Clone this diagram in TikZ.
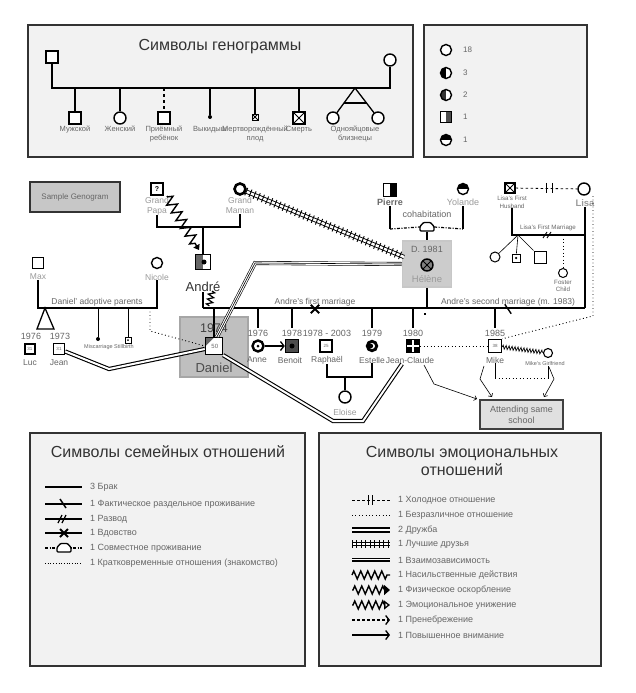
\documentclass[tikz,border=0pt]{standalone}
\usepackage{fontspec}
\setmainfont{Liberation Sans}
\usetikzlibrary{arrows.meta,decorations.pathmorphing,decorations.pathreplacing,calc}
\newcommand\fsz[2]{\fontsize{#1}{#2}\selectfont}
\definecolor{lgray}{HTML}{F2F2F2}
\definecolor{txtg}{HTML}{666666}
\definecolor{txtl}{HTML}{9A9A9A}
\tikzset{
  legbox/.style={draw=black!80, fill=lgray, line width=1.2pt, inner sep=0pt},
  ttl/.style={font=\fsz{16}{18}, text=black!80, align=center, inner sep=0pt},
  male/.style={draw, rectangle, fill=white, line width=1.4pt, minimum size=12pt, inner sep=0pt},
  female/.style={draw, circle, fill=white, line width=1.4pt, minimum size=12pt, inner sep=0pt},
  rel/.style={line width=1.5pt},
  kid/.style={line width=1.3pt},
  thinl/.style={line width=0.6pt},
  lab/.style={font=\fsz{8.5}{10}, text=txtg, inner sep=0pt, align=center},
  yr/.style={font=\fsz{9}{9}, text=txtg, inner sep=1.5pt},
  glab/.style={font=\fsz{7.5}{9}, text=txtg, inner sep=0pt, align=center, anchor=north},
  tinylab/.style={font=\fsz{6.2}{7.5}, text=txtg, inner sep=0pt, align=center},
  leg/.style={font=\fsz{9}{10}, text=txtg, inner sep=0pt, anchor=west},
  crossed/.style={path picture={\draw[line width=0.8pt] (path picture bounding box.south west) -- (path picture bounding box.north east) (path picture bounding box.north west) -- (path picture bounding box.south east);}},
  lefthalf/.style={path picture={\fill[#1] (path picture bounding box.south west) rectangle (path picture bounding box.north);}},
  lefthalf/.default=black,
  righthalf/.style={path picture={\fill[#1] (path picture bounding box.south east) rectangle (path picture bounding box.north);}},
  righthalf/.default=black,
  tophalf/.style={path picture={\fill[#1] (path picture bounding box.north west) rectangle (path picture bounding box.east);}},
  tophalf/.default=black,
  dotrel/.style={line width=0.9pt, dash pattern=on 0.9pt off 2.6pt},
  cohab/.style={line width=1.2pt, dash pattern=on 3pt off 1.5pt on 1pt off 1.5pt},
  zz/.style={decorate, decoration={zigzag, segment length=7pt, amplitude=4pt, pre length=1pt, post length=3pt}, line width=1.4pt},
  dbl/.style={line width=1.1pt, double=white, double distance=2pt},
  tripl/.style={line width=0.6pt, double=white, double distance=2.8pt},
  tickd/.style={line width=0.9pt, decorate, decoration={ticks, segment length=4.5pt, amplitude=4pt}},
  chev/.style={-{Straight Barb[length=3.5pt, width=9pt, line width=1.3pt]}},
  sarr/.style={line width=0.6pt, -{Straight Barb[length=2.5pt, width=5pt]}},
  housepic/.pic={\draw[line width=1.3pt, fill=white, rounded corners=1pt] (-7,4) -- (-7,-0.5) -- (-3.5,-4.5) -- (3.5,-4.5) -- (7,-0.5) -- (7,4) -- cycle;},
  dotn/.style={circle, fill=black, inner sep=0pt, minimum size=#1},
  dotn/.default=4pt
}
\begin{document}
\begin{tikzpicture}[x=1pt,y=-1pt]
\fill[white] (0,0) rectangle (635,693);
\path[use as bounding box] (0,0) rectangle (635,693);

% ================= Genogram symbols legend =================
\node[legbox, minimum width=385pt, minimum height=132pt] (gbox) at (220.5,91) {};
\node[ttl] (gtitle) at (220,47) {Символы генограммы};
\node[male] (gm) at (52,57) {};
\node[female] (gf) at (390,60) {};
\coordinate (gl) at (52,88); \coordinate (gr) at (390,88);
\draw[rel] (gm) -- (gl) -- (gr) -- (gf);
\node[male] (c1) at (75,118) {};
\node[female] (c2) at (120,118) {};
\node[male] (c3) at (164,118) {};
\node[dotn] (c4) at (210,117) {};
\node[male, minimum size=6pt, line width=0.7pt, crossed] (c5) at (255,117) {};
\node[male, crossed] (c6) at (299,118) {};
\coordinate (tw) at (355,88);
\node[female] (c7) at (333,118) {};
\node[female] (c8) at (378,118) {};
\coordinate (d1) at (75,88); \coordinate (d2) at (120,88); \coordinate (d3) at (164,88);
\coordinate (d4) at (210,88); \coordinate (d5) at (255,88); \coordinate (d6) at (299,88);
\draw[kid] (d1) -- (c1);
\draw[kid] (d2) -- (c2);
\draw[kid, dashed] (d3) -- (c3);
\draw[kid] (d4) -- (c4);
\draw[kid] (d5) -- (c5);
\draw[kid] (d6) -- (c6);
\draw[kid] (c7) -- (tw) -- (c8);
\draw[kid] ($(tw)!0.5!(c7)$) -- ($(tw)!0.5!(c8)$);
\node[glab] (l1) at (75,126) {Мужской};
\node[glab] (l2) at (120,126) {Женский};
\node[glab] (l3) at (164,126) {Приёмный\\ребёнок};
\node[glab] (l4) at (210,126) {Выкидыш};
\node[glab] (l5) at (255,126) {Мертворождённый\\плод};
\node[glab] (l6) at (299,126) {Смерть};
\node[glab] (l7) at (355,126) {Однояйцовые\\близнецы};

% ================= statistics legend =================
\node[legbox, minimum width=163pt, minimum height=132pt] (sbox) at (505.5,91) {};
\node[female, minimum size=11pt] (s1) at (446,50) {};
\node[female, minimum size=11pt, lefthalf] (s2) at (446,73) {};
\node[female, minimum size=11pt, lefthalf=black!80] (s3) at (446,95) {};
\node[male, minimum size=11pt, righthalf=black!70] (s4) at (446,117) {};
\node[female, minimum size=11pt, tophalf] (s5) at (446,140) {};
\node[leg, font=\fsz{8}{9}] (s1t) at (463,50) {18};
\node[leg, font=\fsz{8}{9}] (s2t) at (463,73) {3};
\node[leg, font=\fsz{8}{9}] (s3t) at (463,95) {2};
\node[leg, font=\fsz{8}{9}] (s4t) at (463,117) {1};
\node[leg, font=\fsz{8}{9}] (s5t) at (463,140) {1};

% ================= sample genogram =================
\node[draw=black!80, fill=black!22, line width=1.5pt, minimum width=90pt, minimum height=30pt, font=\fsz{8}{9}, text=txtg] (sample) at (75,197) {Sample Genogram};

% grandparents
\node[male, font=\fsz{7}{7}\bfseries] (gpapa) at (157,189) {?};
\node[lab, text=txtl, anchor=north] (gpapaL) at (157,197) {Grand\\Papa};
\node[female, minimum size=11pt, line width=2.6pt, path picture={\fill (path picture bounding box.center) circle (1.5pt);}] (gmaman) at (240,189) {};
\node[lab, text=txtl, anchor=north] (gmamanL) at (240,197) {Grand\\Maman};
\coordinate (gpL) at (157,227); \coordinate (gpR) at (240,227); \coordinate (gpC) at (203,227);
\draw[rel] (gpapaL) -- (gpL) -- (gpR) -- (gmamanL);

% André
\node[male, minimum size=15pt, lefthalf=black!60] (andre) at (203,262) {};
\node[dotn=5pt] (andreDot) at (204,262) {};
\draw[kid] (gpC) -- (andre);
\node[font=\fsz{13}{13}, text=black!80, inner sep=0pt] (andreL) at (203,287) {André};
\coordinate (mL) at (203,308); \coordinate (mR) at (585,308);
\draw[kid] (andreL) -- (mL);
\coordinate (zA1) at (167,196); \coordinate (zA2) at (199,250);
\draw[decorate, decoration={zigzag, segment length=9pt, amplitude=5pt, pre length=1pt, post length=4pt}, line width=1.4pt, -{Triangle[length=5pt,width=7pt]}] (zA1) -- (zA2);
\coordinate (zB1) at (212,291); \coordinate (zB2) at (209,306);
\draw[decorate, decoration={zigzag, segment length=5pt, amplitude=3pt}, line width=1.2pt] (zB1) -- (zB2);

% Pierre, Yolande, Hélène
\node[male, minimum size=13pt, righthalf] (pierre) at (390,190) {};
\node[lab, font=\fsz{9}{10}\bfseries, anchor=north] (pierreL) at (390,199) {Pierre};
\node[female, minimum size=11pt, tophalf] (yolande) at (463,189) {};
\node[lab, font=\fsz{9}{10}, text=txtl, anchor=north] (yolandeL) at (463,199) {Yolande};
\coordinate (cohL) at (390,229); \coordinate (cohR) at (463,229);
\node[minimum width=14pt, minimum height=9pt, inner sep=0pt] (house) at (427,227) {};
\draw[kid] (pierreL) -- (cohL);
\draw[kid] (yolandeL) -- (cohR);
\draw[cohab] (cohL) -- (house.west);
\draw[cohab] (house.east) -- (cohR);
\node[draw=black!22, fill=black!20, line width=1.5pt, minimum width=49pt, minimum height=46pt, inner sep=0pt] (hbox) at (427,264) {};
\draw[rel] (house) -- (hbox);
\pic at (house) {housepic};
\node[lab, font=\fsz{9}{10}] (cohabL) at (427,214) {cohabitation};
\node[font=\fsz{9}{9}, text=txtg, inner sep=0pt] (hD) at (427,249) {D. 1981};
\node[female, minimum size=12pt, fill=black!50, crossed] (helene) at (427,265) {};
\node[font=\fsz{9.5}{9.5}, text=txtl, inner sep=0pt] (heleneL) at (427,279) {Hélène};
\coordinate (mH) at (427,308);
\draw[rel] (hbox) -- (mH);

% best friends Grand Maman -- Hélène
\coordinate (bfEnd) at (404,257);
\draw[line width=0.9pt, double=white, double distance=2.4pt] (gmaman) -- (bfEnd);
\draw[tickd] (gmaman) -- (bfEnd);

% main marriage line
\draw[rel] (mL) -- (mR);
\node[female] (lisa) at (584,189) {};
\node[font=\fsz{9.5}{9.5}\bfseries, text=txtl, inner sep=0pt] (lisaL) at (585,203) {Lisa};
\draw[rel] (lisaL) -- (mR);
\node[inner sep=0pt, minimum size=8pt] (xm) at (315,309) {};
\draw[line width=1.8pt] (xm.north west) -- (xm.south east) (xm.north east) -- (xm.south west);
\node[inner sep=0pt, minimum width=6pt, minimum height=9pt] (sep2) at (508,309) {};
\draw[line width=1.4pt] (sep2.north west) -- (sep2.south east);
\node[fill=black, minimum size=2.5pt, inner sep=0pt] (sq) at (425,314) {};
\node[lab] (fmL) at (315,302) {Andre's first marriage};
\node[lab] (smL) at (508,302) {Andre's second marriage (m. 1983)};

% Lisa's first marriage
\node[male, minimum size=10pt, line width=1.2pt, crossed] (lhus) at (510,188) {};
\node[tinylab, anchor=north] (lhusL) at (512,196) {Lisa's First\\Husband};
\draw[line width=0.8pt, dash pattern=on 2.5pt off 2.5pt] (lhus) -- (lisa);
\node[inner sep=0pt, minimum width=5pt, minimum height=10pt] (cold) at (549.5,188) {};
\draw[line width=1pt] (cold.north west) -- (cold.south west) (cold.north east) -- (cold.south east);
\coordinate (lfL) at (512,235); \coordinate (lfR) at (585,235);
\draw[line width=1.1pt] (lhusL) -- (lfL) -- (lfR);
\node[inner sep=0pt, minimum size=6pt] (div1) at (547,235) {};
\draw[line width=0.9pt] ($(div1)+(-4,3)$) -- ($(div1)+(0,-3)$) ($(div1)+(0,3)$) -- ($(div1)+(4,-3)$);
\node[tinylab] (lfmL) at (548,228) {Lisa's First Marriage};
\coordinate (lfC) at (518,235);
\node[female, minimum size=10pt, line width=1pt] (lk1) at (495,257) {};
\node[male, minimum size=8pt, line width=1pt] (lk2) at (516,258) {};
\node[dotn=2.5pt] (lk2d) at (516,258) {};
\node[male, minimum size=12pt, line width=1pt] (lk3) at (540,257) {};
\draw[thinl] (lfC) -- (lk1);
\draw[thinl] (lfC) -- (lk2);
\draw[thinl] (lfC) -- (lk3);
\coordinate (lfF) at (563,235);
\node[female, minimum size=9pt, line width=1pt] (foster) at (563,273) {};
\draw[dotrel] (lfF) -- (foster);
\node[tinylab, anchor=north] (fosterL) at (563,280) {Foster\\Child};

% adoptive parents
\node[male, minimum size=11pt] (max) at (38,263) {};
\node[female, minimum size=11pt] (nicole) at (157,263) {};
\node[lab, text=txtl] (maxL) at (38,277) {Max};
\node[lab, text=txtl] (nicoleL) at (157,277) {Nicole};
\coordinate (apL) at (38,308); \coordinate (apR) at (157,308);
\draw[rel] (maxL) -- (apL) -- (apR) -- (nicoleL);
\node[lab] (apLab) at (97,302) {Daniel' adoptive parents};
\coordinate (twA) at (45,308); \coordinate (twB1) at (37,329); \coordinate (twB2) at (54,329);
\draw[kid, line join=miter] (twB1) -- (twA) -- (twB2) -- cycle;
\node[yr] (lucY) at (31,336) {1976};
\node[yr] (jeanY) at (60,336) {1973};
\node[male, minimum size=10pt, line width=1.2pt] (luc) at (30,349) {\fsz{4.5}{4.5}\color{txtg}31};
\node[male, minimum size=11pt] (jean) at (59,349) {\fsz{4.5}{4.5}\color{txtg}31};
\node[lab] (lucL) at (30,363) {Luc};
\node[lab] (jeanL) at (59,363) {Jean};
\coordinate (mc) at (98,308); \coordinate (sb) at (128,308);
\node[dotn] (misc) at (98,339) {};
\node[male, minimum size=6pt, line width=1pt] (still) at (128,340) {};
\node[dotn=2pt] (stilld) at (128,340) {};
\draw[line width=1pt] (mc) -- (misc);
\draw[line width=1pt] (sb) -- (still);
\node[font=\fsz{5.5}{6}, text=txtg, inner sep=0pt] (mscL) at (109,347) {Miscarriage Stillbirth};

% Daniel
\node[draw=black!35, fill=black!25, line width=1.5pt, minimum width=68pt, minimum height=60pt] (dbox) at (214,347) {};
\coordinate (mD) at (214,308);
\node[male, minimum size=17pt, path picture={\fill[black!60] (path picture bounding box.north west) -- (path picture bounding box.north) -- (path picture bounding box.west) -- cycle;}] (daniel) at (214,346) {\fsz{6}{6}\color{txtg}\ 50};
\draw[kid] (mD) -- (daniel);
\node[font=\fsz{12.5}{12.5}, text=black!75, inner sep=0pt] (dY) at (214,328) {1974};
\node[font=\fsz{13}{13}, text=black!70, inner sep=0pt] (danielL) at (214,368) {Daniel};
\coordinate (nd1) at (150,308); \coordinate (nd2) at (150,331);
\draw[dotrel] (nd1) -- (nd2) -- (daniel.west);

% children of André
\node[female, minimum size=11pt, line width=2.4pt] (anne) at (258,346) {};
\node[dotn=3pt] (anned) at (258,346) {};
\node[male, minimum size=13pt, fill=black!70] (benoit) at (292,346) {};
\node[dotn=5pt] (benoitd) at (292,346) {};
\node[male, minimum size=12pt, line width=1.2pt] (raphael) at (326,346) {\fsz{4.5}{4.5}\color{txtg}25};
\node[female, minimum size=11pt, path picture={\fill[black] (path picture bounding box.south west) rectangle (path picture bounding box.north east); \fill[white] (path picture bounding box.center) circle (3pt); \fill[black] ([xshift=-1.3pt]path picture bounding box.center) circle (2.4pt);}] (estelle) at (372,346) {};
\node[male, minimum size=13pt, fill=black, path picture={\draw[white, line width=1.5pt] (path picture bounding box.north) -- (path picture bounding box.south) (path picture bounding box.west) -- (path picture bounding box.east);}] (jc) at (413,346) {};
\node[male, minimum size=13pt] (mike) at (495,346) {\fsz{4.5}{4.5}\color{txtg}38};

\node[yr] (anneY) at (258,333) {1976};
\node[yr] (benoitY) at (292,333) {1978};
\node[yr] (raphaelY) at (327,333) {1978 - 2003};
\node[yr] (estelleY) at (372,333) {1979};
\node[yr] (jcY) at (413,333) {1980};
\node[yr] (mikeY) at (495,333) {1985};
\coordinate (mA) at (258,308); \coordinate (mB) at (292,308); \coordinate (mE) at (372,308);
\coordinate (mJ) at (413,308); \coordinate (mM) at (495,308);
\draw[kid] (mA) -- (anneY);
\draw[kid] (mB) -- (benoitY);
\draw[kid] (mE) -- (estelleY);
\draw[kid] (mJ) -- (jcY);
\draw[kid] (mM) -- (mikeY);
\node[lab] (anneL) at (257,360) {Anne};
\node[lab] (benoitL) at (290,360) {Benoit};
\node[lab] (raphaelL) at (327,360) {Raphaël};
\node[lab] (estelleL) at (372,360) {Estelle};
\node[lab] (jcL) at (410,360) {Jean-Claude};
\node[lab] (mikeL) at (495,360) {Mike};
\draw[line width=1.3pt, chev] (anne) -- (benoit);

% Eloise
\coordinate (eL) at (327,377); \coordinate (eR) at (372,377); \coordinate (eC) at (345,377);
\draw[kid] (raphaelL) -- (eL) -- (eR) -- (estelleL);
\node[female] (eloise) at (345,397) {};
\draw[kid] (eC) -- (eloise);
\node[lab, text=txtl] (eloiseL) at (345,412) {Eloise};

% Mike & girlfriend
\node[female, minimum size=9pt, line width=1.1pt] (mgf) at (548,353) {};
\node[font=\fsz{5.5}{6}, text=txtg, inner sep=0pt] (mgfL) at (545,364) {Mike's Girlfriend};
\draw[line width=0.7pt, decorate, decoration={zigzag, segment length=3pt, amplitude=2pt}] (mike) -- (mgf);
\coordinate (mg1) at (495,378); \coordinate (mg2) at (548,378);
\draw[line width=1pt] (mikeL) -- (mg1);
\draw[dotrel] (mg1) -- (mg2);
\draw[line width=1pt] (mgfL.south -| mg2) -- (mg2);
\draw[dotrel] (jc) -- (mike);
\coordinate (ld1) at (593,196); \coordinate (ld2) at (593,316);
\draw[dotrel] (ld1) -- (ld2) -- (mike.north east);

% school
\node[draw=black!75, fill=black!12, line width=1.2pt, minimum width=83pt, minimum height=29pt, font=\fsz{9}{11}, text=txtg, align=center] (school) at (521.5,414.5) {Attending same\\school};
\coordinate (js1) at (424,365); \coordinate (js2) at (434,384); \coordinate (js3) at (477,399);
\draw[sarr] (js1) -- (js2) -- (js3);
\coordinate (ms1) at (484,366); \coordinate (ms2) at (480,379); \coordinate (ms3) at (492,397);
\draw[sarr] (ms1) -- (ms2) -- (ms3);
\coordinate (gs1) at (549,367); \coordinate (gs2) at (554,379); \coordinate (gs3) at (544,397);
\draw[sarr] (gs1) -- (gs2) -- (gs3);

% emotional lines
\coordinate (jd) at (109,369);
\draw[dbl] (jean) -- (jd) -- ($(daniel.west)+(0,3)$);
\coordinate (dj1) at (333,421); \coordinate (dj2) at (363,421); \coordinate (dj3) at (402,364);
\draw[dbl] (daniel.south east) -- (dj1) -- (dj2) -- (dj3);
\coordinate (hd1) at (255,263);
\draw[tripl] (hbox.west) -- (hd1) -- ($(daniel.north)+(3,0)$);
\draw[line width=0.6pt] (hbox.west) -- (hd1) -- ($(daniel.north)+(3,0)$);

% ================= family relations legend =================
\node[legbox, minimum width=275pt, minimum height=233pt] (fbox) at (167.5,549.5) {};
\node[ttl] (ftitle) at (168,452) {Символы семейных отношений};
\coordinate (f1a) at (45,487); \coordinate (f1b) at (82,487);
\coordinate (f2a) at (45,504); \coordinate (f2b) at (82,504);
\coordinate (f3a) at (45,519); \coordinate (f3b) at (82,519);
\coordinate (f4a) at (45,533); \coordinate (f4b) at (82,533);
\coordinate (f5a) at (45,548); \coordinate (f5b) at (82,548);
\coordinate (f6a) at (45,563); \coordinate (f6b) at (82,563);
\draw[line width=2pt] (f1a) -- (f1b);
\draw[line width=1.8pt] (f2a) -- (f2b);
\draw[line width=1.5pt] (60,499) -- (66,508);
\draw[line width=1.8pt] (f3a) -- (f3b);
\draw[line width=1.2pt] (58,523) -- (62,515) (62,523) -- (66,515);
\draw[line width=1.8pt] (f4a) -- (f4b);
\draw[line width=2pt] (60,529) -- (68,537) (68,529) -- (60,537);
\draw[cohab] (f5a) -- (f5b);
\pic at (64,548) {housepic};
\draw[line width=0.7pt, dash pattern=on 0.7pt off 2pt] (f6a) -- (f6b);
\node[leg] (f1t) at (90,487) {3 Брак};
\node[leg] (f2t) at (90,504) {1 Фактическое раздельное проживание};
\node[leg] (f3t) at (90,519) {1 Развод};
\node[leg] (f4t) at (90,533) {1 Вдовство};
\node[leg] (f5t) at (90,548) {1 Совместное проживание};
\node[leg] (f6t) at (90,563) {1 Кратковременные отношения (знакомство)};

% ================= emotional relations legend =================
\node[legbox, minimum width=282pt, minimum height=233pt] (ebox) at (460,549.5) {};
\node[ttl] (etitle) at (462,461) {Символы эмоциональных\\отношений};
\coordinate (e1a) at (352,500); \coordinate (e1b) at (390,500);
\coordinate (e2a) at (352,515); \coordinate (e2b) at (390,515);
\coordinate (e3a) at (352,530); \coordinate (e3b) at (390,530);
\coordinate (e4a) at (352,544); \coordinate (e4b) at (390,544);
\coordinate (e5a) at (352,560); \coordinate (e5b) at (390,560);
\coordinate (e6a) at (352,575); \coordinate (e6b) at (390,575);
\coordinate (e7a) at (352,590); \coordinate (e7b) at (390,590);
\coordinate (e8a) at (352,605); \coordinate (e8b) at (390,605);
\coordinate (e9a) at (352,620); \coordinate (e9b) at (390,620);
\coordinate (e10a) at (352,635); \coordinate (e10b) at (390,635);
\draw[line width=0.9pt, dash pattern=on 2.5pt off 2.5pt] (e1a) -- (e1b);
\draw[line width=1pt] (368,495) -- (368,505) (372,495) -- (372,505);
\draw[line width=0.8pt, dash pattern=on 0.8pt off 2.6pt] (e2a) -- (e2b);
\draw[line width=1.6pt, double=white, double distance=2pt] (e3a) -- (e3b);
\draw[line width=0.9pt, double=white, double distance=2.4pt] (e4a) -- (e4b);
\draw[tickd] (e4a) -- (e4b);
\draw[tripl] (e5a) -- (e5b);
\draw[line width=0.6pt] (e5a) -- (e5b);
\draw[decorate, decoration={zigzag, segment length=7pt, amplitude=4pt}, line width=1.4pt] (e6a) -- (e6b);
\draw[zz, -{Triangle[length=6pt,width=10pt]}] (e7a) -- (e7b);
\draw[zz, -{Triangle[open, length=6pt,width=9pt, line width=1.3pt]}] (e8a) -- (e8b);
\draw[line width=1.1pt, dash pattern=on 2.5pt off 2.5pt, chev] (e9a) -- (e9b);
\draw[line width=1.1pt, chev] (e10a) -- (e10b);
\node[leg] (e1t) at (398,500) {1 Холодное отношение};
\node[leg] (e2t) at (398,515) {1 Безразличное отношение};
\node[leg] (e3t) at (398,530) {2 Дружба};
\node[leg] (e4t) at (398,544) {1 Лучшие друзья};
\node[leg] (e5t) at (398,560) {1 Взаимозависимость};
\node[leg] (e6t) at (398,575) {1 Насильственные действия};
\node[leg] (e7t) at (398,590) {1 Физическое оскорбление};
\node[leg] (e8t) at (398,605) {1 Эмоциональное унижение};
\node[leg] (e9t) at (398,620) {1 Пренебрежение};
\node[leg] (e10t) at (398,635) {1 Повышенное внимание};
\end{tikzpicture}
\end{document}
